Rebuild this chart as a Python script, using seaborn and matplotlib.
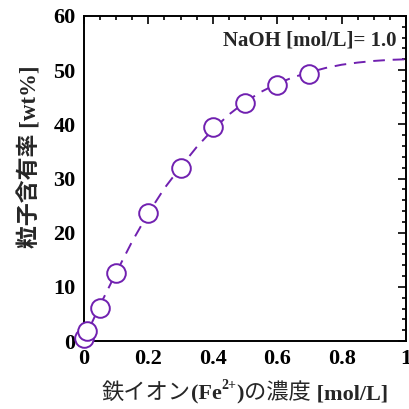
import matplotlib
matplotlib.use("Agg")
import matplotlib.pyplot as plt
import seaborn as sns
import pandas as pd
from matplotlib.ticker import MultipleLocator

sns.set_theme(style="white")
plt.rcParams['font.family'] = ['Liberation Serif', 'Noto Sans CJK JP', 'DejaVu Sans']

# measured points
fe_conc = [0.0, 0.01, 0.05, 0.1, 0.2, 0.3, 0.4, 0.5, 0.6, 0.7]
particle_wt = [0.5, 1.8, 6.2, 12.5, 23.6, 32.0, 39.6, 44.0, 47.3, 49.3]

# dashed fit curve
curve_x = [0.0, 0.025, 0.05, 0.1, 0.15, 0.2, 0.25, 0.3, 0.35, 0.4, 0.45, 0.5,
           0.55, 0.6, 0.65, 0.7, 0.75, 0.8, 0.85, 0.9, 0.95, 1.0]
curve_y = [0.0, 3.4, 6.6, 12.6, 18.4, 23.6, 28.2, 32.1, 35.8, 39.0, 41.8, 44.1,
           46.0, 47.5, 48.7, 49.6, 50.4, 51.0, 51.4, 51.7, 51.9, 52.0]

x_ticks = [0, 0.2, 0.4, 0.6, 0.8, 1.0]
x_tick_labels = ['0', '0.2', '0.4', '0.6', '0.8', '1']

# x label pieces: (text, weight, size, superscript)
xlabel_parts = [('鉄イオン', 'normal', 16, False), ('(Fe', 'bold', 16, False),
                ('2+', 'bold', 10, True), (')', 'bold', 16, False),
                ('の濃度', 'normal', 16, False), (' [mol/L]', 'bold', 16, False)]
ylabel_text = '粒子含有率 [wt%]'
note_text = 'NaOH [mol/L]= 1.0'

color = '#7020B0'
pts = pd.DataFrame({'x': fe_conc, 'y': particle_wt})
crv = pd.DataFrame({'x': curve_x, 'y': curve_y})

fig = plt.figure(figsize=(4.09, 4.09), dpi=100)
ax = fig.add_axes([0.205, 0.166, 0.788, 0.795])

sns.lineplot(data=crv, x='x', y='y', ax=ax, color=color, lw=1.4,
             dashes=False, linestyle=(0, (6, 4)), zorder=1)
sns.scatterplot(data=pts, x='x', y='y', ax=ax, s=180, facecolor='white',
                edgecolor=color, linewidth=1.4, zorder=3, clip_on=False)

ax.set_xlim(0, 1)
ax.set_ylim(0, 60)
ax.xaxis.set_minor_locator(MultipleLocator(0.05))
ax.yaxis.set_major_locator(MultipleLocator(10))
ax.yaxis.set_minor_locator(MultipleLocator(2))
ax.set_xticks(x_ticks)
ax.set_xticklabels(x_tick_labels)
ax.tick_params(which='both', direction='in', top=True, right=True, width=1.2,
               colors='black', labelsize=16, pad=6)
ax.tick_params(which='major', length=6)
ax.tick_params(which='minor', length=3)
for lab in ax.get_xticklabels() + ax.get_yticklabels():
    lab.set_fontweight('bold')
for sp in ax.spines.values():
    sp.set_linewidth(1.4)
    sp.set_color('black')

ax.set_xlabel('')
ax.set_ylabel(ylabel_text, fontsize=16.5, fontweight='bold')
ax.yaxis.set_label_coords(-0.132, 0.566)
ax.text(0.969, 0.955, note_text, transform=ax.transAxes, ha='right', va='top',
        fontsize=15, fontweight='bold')

# build x label from pieces
first = None
prev = None
pieces = []
for txt, wt, sz, sup in xlabel_parts:
    if first is None:
        t = fig.text(0.2, 0.012, txt, fontsize=sz, fontweight=wt, ha='left', va='bottom')
        first = t
    else:
        yfrac = 0.58 if sup else 0.0
        t = ax.annotate(txt, xy=(1.0, yfrac), xycoords=(prev, first), ha='left',
                        va='bottom', fontsize=sz, fontweight=wt, annotation_clip=False)
    pieces.append(t)
    prev = t

fig.canvas.draw()
r = fig.canvas.get_renderer()
x0 = pieces[0].get_window_extent(r).x0
x1 = pieces[-1].get_window_extent(r).x1
ax_bb = ax.get_window_extent(r)
target = (ax_bb.x0 + ax_bb.x1) / 2
shift = target - (x0 + x1) / 2
fx, fy = first.get_position()
first.set_position((fx + shift / fig.bbox.width, fy))

fig.savefig('out.png', dpi=100)
